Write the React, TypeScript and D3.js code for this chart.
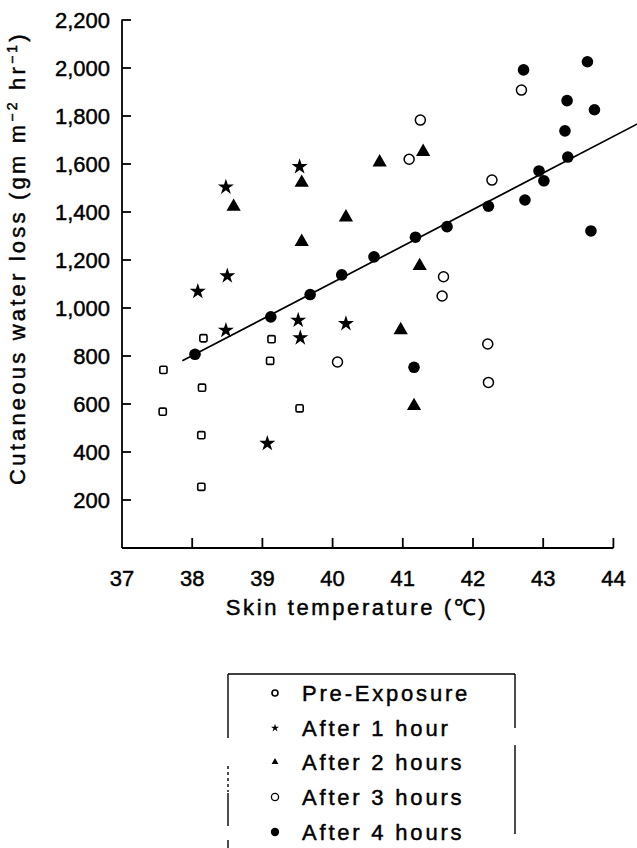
import React from "react";
import * as d3 from "d3";

const xTicks = [37, 38, 39, 40, 41, 42, 43, 44];
const yTicks = [200, 400, 600, 800, 1000, 1200, 1400, 1600, 1800, 2000, 2200];

const preX = [37.59, 37.58, 38.16, 38.14, 38.13, 38.13, 39.13, 39.11, 39.53];
const preY = [742, 568, 874, 668, 470, 255, 870, 780, 582];

const h1X = [38.48, 38.5, 38.08, 39.53, 38.48, 39.51, 39.54, 40.19, 39.07];
const h1Y = [1508, 1138, 1073, 1593, 911, 953, 880, 939, 440];

const h2X = [38.59, 39.56, 39.56, 40.19, 40.67, 41.29, 41.24, 40.97, 41.16];
const h2Y = [1422, 1522, 1276, 1378, 1607, 1651, 1175, 908, 592];

const h3X = [41.25, 41.09, 42.69, 42.27, 41.58, 41.56, 42.21, 42.22, 40.07];
const h3Y = [1783, 1620, 1908, 1533, 1130, 1050, 850, 690, 775];

const h4X = [38.04, 39.12, 39.68, 40.13, 40.59, 41.18, 41.63, 42.22, 42.74, 42.94, 43.01, 43.35, 43.31, 43.34, 43.73, 42.72, 43.63, 43.68, 41.16];
const h4Y = [807, 963, 1056, 1138, 1213, 1295, 1339, 1424, 1450, 1571, 1530, 1629, 1738, 1864, 1826, 1992, 2026, 1321, 753];

const fitX = [37.86, 44.4];
const fitY = [780, 1776];

const legendLabels = ["Pre-Exposure", "After 1 hour", "After 2 hours", "After 3 hours", "After 4 hours"];

const FONT = "'Liberation Sans', Arial, sans-serif";

export default function App() {
  const W = 637;
  const H = 848;
  const x = d3.scaleLinear().domain([37, 44]).range([122, 613.4]);
  const y = d3.scaleLinear().domain([0, 2200]).range([548, 20]);

  const star = d3.symbol().type(d3.symbolStar).size(80)()!;
  const tri = d3.symbol().type(d3.symbolTriangle).size(88)()!;
  const starS = d3.symbol().type(d3.symbolStar).size(20)()!;
  const triS = d3.symbol().type(d3.symbolTriangle).size(20)()!;

  const line = d3
    .line<number>()
    .x((d, i) => x(fitX[i]))
    .y((d) => y(d))(fitY)!;

  const legendX = 275;
  const legendRows = [693, 728, 762, 797, 832];
  const txt = { fill: "#000", stroke: "#000", strokeWidth: 0.45 };

  return (
    <svg
      width={W}
      height={H}
      style={{ position: "absolute", left: 0, top: 0, background: "#fff" }}
      fontFamily={FONT}
    >
      <rect width={W} height={H} fill="#fff" />
      {/* axes */}
      <line x1={122} y1={19.5} x2={122} y2={548} stroke="#000" strokeWidth={1.8} />
      <line x1={122} y1={548} x2={x(44)} y2={548} stroke="#000" strokeWidth={2} />
      {yTicks.map((t) => (
        <g key={"yt" + t}>
          <line x1={122} x2={131} y1={y(t)} y2={y(t)} stroke="#000" strokeWidth={1.8} />
          <text x={110} y={y(t)} dy="0.35em" textAnchor="end" fontSize={22} {...txt}>
            {d3.format(",")(t)}
          </text>
        </g>
      ))}
      {xTicks.map((t) => (
        <g key={"xt" + t}>
          {t !== 37 && (
            <line x1={x(t)} x2={x(t)} y1={548} y2={538} stroke="#000" strokeWidth={1.8} />
          )}
          <text x={x(t)} y={578} dy="0.35em" textAnchor="middle" fontSize={22} {...txt}>
            {t}
          </text>
        </g>
      ))}
      <text
        x={357}
        y={607}
        dy="0.35em"
        textAnchor="middle"
        fontSize={22}
        letterSpacing={2.6}
        {...txt}
      >
        Skin temperature (℃)
      </text>
      <text
        transform={`translate(25,258) rotate(-90)`}
        textAnchor="middle"
        fontSize={22}
        letterSpacing={3.2}
        {...txt}
      >
        Cutaneous water loss (gm m
        <tspan dy={-8} fontSize={14}>−2</tspan>
        <tspan dy={8}> hr</tspan>
        <tspan dy={-8} fontSize={14}>−1</tspan>
        <tspan dy={8}>)</tspan>
      </text>

      {/* regression line */}
      <path d={line} fill="none" stroke="#000" strokeWidth={1.7} />

      {/* Pre-exposure squares */}
      {preX.map((v, i) => (
        <rect
          key={"p" + i}
          x={x(v) - 3.6}
          y={y(preY[i]) - 3.6}
          width={7.2}
          height={7.2}
          rx={1.5}
          fill="#fff"
          stroke="#000"
          strokeWidth={1.6}
        />
      ))}
      {/* After 1 hour stars */}
      {h1X.map((v, i) => (
        <path key={"s" + i} d={star} transform={`translate(${x(v)},${y(h1Y[i]) + 1})`} fill="#000" />
      ))}
      {/* After 2 hours triangles */}
      {h2X.map((v, i) => (
        <path key={"t" + i} d={tri} transform={`translate(${x(v)},${y(h2Y[i])})`} fill="#000" />
      ))}
      {/* After 3 hours open circles */}
      {h3X.map((v, i) => (
        <circle key={"o" + i} cx={x(v)} cy={y(h3Y[i])} r={5} fill="#fff" stroke="#000" strokeWidth={1.5} />
      ))}
      {/* After 4 hours filled circles */}
      {h4X.map((v, i) => (
        <circle key={"f" + i} cx={x(v)} cy={y(h4Y[i])} r={5.8} fill="#000" />
      ))}

      {/* legend */}
      <g stroke="#000" strokeWidth={1.4} fill="none">
        <line x1={228} x2={515} y1={674} y2={674} />
        <line x1={228} x2={228} y1={674} y2={738} />
        <line x1={228} x2={228} y1={766} y2={792} strokeDasharray="3,3" />
        <line x1={228} x2={228} y1={793} y2={826} />
        <line x1={228} x2={228} y1={840} y2={848} />
        <line x1={515} x2={515} y1={674} y2={728} />
        <line x1={515} x2={515} y1={745} y2={834} />
      </g>
      <circle cx={legendX} cy={legendRows[0]} r={3} fill="#fff" stroke="#000" strokeWidth={1.6} />
      <path d={starS} transform={`translate(${legendX},${legendRows[1]})`} fill="#000" />
      <path d={triS} transform={`translate(${legendX},${legendRows[2]})`} fill="#000" />
      <circle cx={legendX} cy={legendRows[3]} r={3.6} fill="#fff" stroke="#000" strokeWidth={1.3} />
      <circle cx={legendX} cy={legendRows[4]} r={4.2} fill="#000" />
      {legendLabels.map((l, i) => (
        <text
          key={l}
          x={302}
          y={legendRows[i]}
          dy="0.35em"
          fontSize={22}
          letterSpacing={2.8}
          {...txt}
        >
          {l}
        </text>
      ))}
    </svg>
  );
}
